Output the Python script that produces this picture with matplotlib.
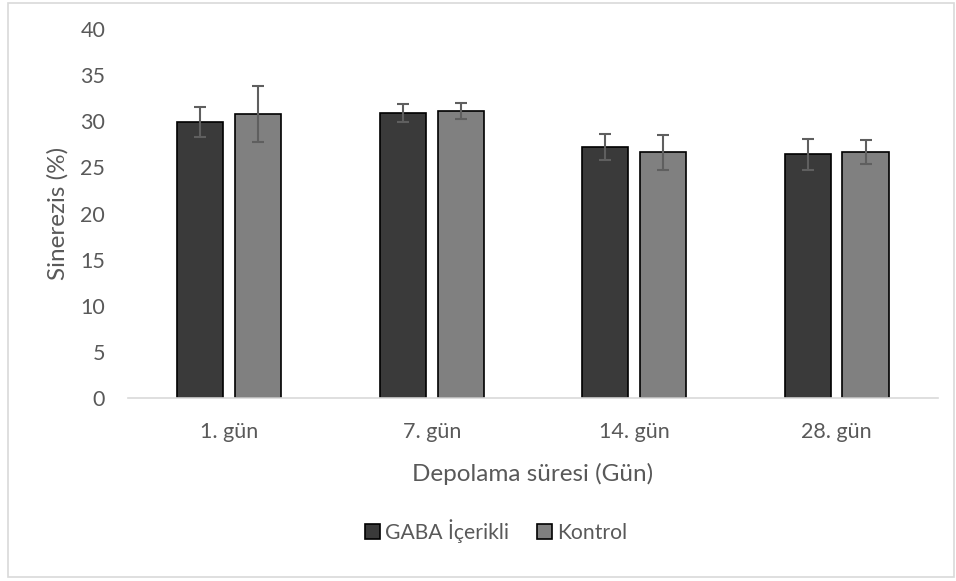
import matplotlib.pyplot as plt
import numpy as np
from matplotlib.patches import Rectangle

plt.rcParams['font.family'] = ['Lato', 'DejaVu Sans']

gunler = ['1. gün', '7. gün', '14. gün', '28. gün']
gaba = [29.9, 30.9, 27.2, 26.4]
gaba_err = [1.6, 1.0, 1.4, 1.65]
kontrol = [30.8, 31.1, 26.65, 26.7]
kontrol_err = [3.0, 0.85, 1.9, 1.3]

yazi = '#595959'

fig = plt.figure(figsize=(9.56, 5.81), dpi=100)
ax = fig.add_axes([0.134, 0.315, 0.847, 0.635])

x = np.arange(len(gunler))
w = 0.228
hata = dict(ecolor='#5f5f5f', elinewidth=1.5, capsize=4.5, capthick=1.5)
ax.bar(x - 0.143, gaba, w, yerr=gaba_err, color='#3a3a3a', edgecolor='black',
       linewidth=1.2, error_kw=hata, label='GABA İçerikli')
ax.bar(x + 0.143, kontrol, w, yerr=kontrol_err, color='#808080', edgecolor='black',
       linewidth=1.2, error_kw=hata, label='Kontrol')

ax.set_xlim(-0.5, 3.5)
ax.set_ylim(0, 40)
ax.set_yticks(range(0, 41, 5))
ax.set_xticks(x)
ax.set_xticklabels(gunler)
ax.tick_params(axis='both', length=0, labelsize=15.5, colors=yazi)
ax.tick_params(axis='y', pad=16.5)
ax.tick_params(axis='x', pad=17)
for s in ['top', 'right', 'left']:
    ax.spines[s].set_visible(False)
ax.spines['bottom'].set_color('#d9d9d9')
ax.spines['bottom'].set_linewidth(1.2)

ax.set_ylabel('Sinerezis (%)', fontsize=17.5, color=yazi, labelpad=8)
ax.set_xlabel('Depolama süresi (Gün)', fontsize=17.5, color=yazi, labelpad=15)

fig.legend(loc='center', bbox_to_anchor=(0.519, 0.086), ncol=2, frameon=False,
           fontsize=15.2, labelcolor=yazi, handlelength=0.7, handleheight=0.7,
           handletextpad=0.25, columnspacing=1.3)

fig.patches.append(Rectangle((0.008, 0.007), 0.99, 0.988, transform=fig.transFigure,
                             fill=False, edgecolor='#d9d9d9', linewidth=1.2))

plt.savefig('out.png', dpi=100)
